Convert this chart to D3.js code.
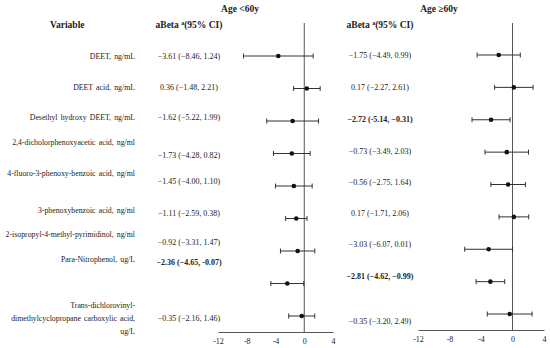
<!DOCTYPE html>
<html>
<head>
<meta charset="utf-8">
<script src="https://cdn.jsdelivr.net/npm/d3@7"></script>
<style>
  body { margin: 0; background: #fff; }
  text { font-family: "Liberation Serif", "Times New Roman", serif; fill: #222; }
</style>
</head>
<body>
<svg width="550" height="348"></svg>
<script>
const variables = [
  ["DEET, ng/mL"],
  ["DEET acid, ng/mL"],
  ["Desethyl hydroxy DEET, ng/mL"],
  ["2,4-dicholorphenoxyacetic acid, ng/ml"],
  ["4-fluoro-3-phenoxy-benzoic acid, ng/ml"],
  ["3-phenoxybenzoic acid, ng/ml"],
  ["2-isopropyl-4-methyl-pyrimidinol, ng/ml"],
  ["Para-Nitrophenol, ug/L"],
  ["Trans-dichlorovinyl-", "dimethylcyclopropane carboxylic acid,", "ug/L"]
];

// Age <60y
const young = [-3.61, 0.36, -1.62, -1.73, -1.45, -1.11, -0.92, -2.36, -0.35];
const youngLo = [-8.46, -1.48, -5.22, -4.28, -4.00, -2.59, -3.31, -4.65, -2.16];
const youngHi = [1.24, 2.21, 1.99, 0.82, 1.10, 0.38, 1.47, -0.07, 1.46];
const youngText = [
  "\u22123.61 (\u22128.46, 1.24)", "0.36 (\u22121.48, 2.21)", "\u22121.62 (\u22125.22, 1.99)",
  "\u22121.73 (\u22124.28, 0.82)", "\u22121.45 (\u22124.00, 1.10)", "\u22121.11 (\u22122.59, 0.38)",
  "\u22120.92 (\u22123.31, 1.47)", "\u22122.36 (\u22124.65, -0.07)", "\u22120.35 (\u22122.16, 1.46)"
];
const youngBold = [false, false, false, false, false, false, false, true, false];

// Age >=60y
const old = [-1.75, 0.17, -2.72, -0.73, -0.56, 0.17, -3.03, -2.81, -0.35];
const oldLo = [-4.49, -2.27, -5.14, -3.49, -2.75, -1.71, -6.07, -4.62, -3.20];
const oldHi = [0.99, 2.61, -0.31, 2.03, 1.64, 2.06, 0.01, -0.99, 2.49];
const oldText = [
  "\u22121.75 (\u22124.49, 0.99)", "0.17 (\u22122.27, 2.61)", "\u22122.72 (-5.14, \u22120.31)",
  "\u22120.73 (\u22123.49, 2.03)", "\u22120.56 (\u22122.75, 1.64)", "0.17 (\u22121.71, 2.06)",
  "\u22123.03 (\u22126.07, 0.01)", "\u22122.81 (\u22124.62, \u22120.99)", "\u22120.35 (\u22123.20, 2.49)"
];
const oldBold = [false, false, true, false, false, false, false, true, false];

const tickValues = [-12, -8, -4, 0, 4];

const svg = d3.select("svg");
const idx = d3.range(variables.length);

// small vertical nudges of the text columns, relative to the row line
const labelDy = [0, -1.5, -4, -11.5, -13, -8.5, -17, -24.5, 15];
const leftValDy = [0, -2, -4, 1, -5, -6, -9, -22, 2];
const rightValDy = [0, 0, -1, -1, -3, -4, -5, -6, 7];

svg.append("text").attr("x", 50).attr("y", 28)
  .attr("font-size", 9.5).attr("font-weight", "bold").text("Variable");

function panel(o) {
  const x = d3.scaleLinear().domain([-12, 4]).range(o.xr);
  const y = d3.scalePoint().domain(idx).range(o.yr);
  const g = svg.append("g");

  g.append("text").attr("x", o.titleX).attr("y", 12)
    .attr("text-anchor", "middle").attr("font-size", 9.5).attr("font-weight", "bold")
    .text(o.title);

  const h = g.append("text").attr("x", o.textX).attr("y", 28)
    .attr("text-anchor", "middle").attr("font-size", 9.5).attr("font-weight", "bold");
  h.append("tspan").text("aBeta ");
  h.append("tspan").attr("dy", -3).attr("font-size", 6).text("a");
  h.append("tspan").attr("dy", 3).text("(95% CI)");

  g.selectAll(".val").data(idx).enter().append("text")
    .attr("x", o.textX).attr("y", d => y(d) + 3 + o.valDy[d])
    .attr("text-anchor", "middle").attr("font-size", 8)
    .attr("font-weight", d => o.bold[d] ? "bold" : "normal")
    .text(d => o.text[d]);

  // axis
  const axis = g.append("g").attr("transform", "translate(0," + o.axisY + ")")
    .call(d3.axisBottom(x).tickValues(tickValues).tickSize(0).tickPadding(6)
      .tickFormat(d => d));
  axis.select(".domain").attr("stroke", "#555");
  axis.selectAll("text").attr("font-size", 8).attr("fill", "#222")
    .attr("font-family", "Liberation Serif, serif");

  g.append("line").attr("x1", x(0)).attr("x2", x(0))
    .attr("y1", 23).attr("y2", o.axisY).attr("stroke", "#555").attr("stroke-width", 1);

  const rows = g.selectAll(".row").data(idx).enter().append("g");
  rows.append("line").attr("x1", d => x(o.lo[d])).attr("x2", d => x(o.hi[d]))
    .attr("y1", d => y(d)).attr("y2", d => y(d)).attr("stroke", "#333").attr("stroke-width", 1);
  rows.append("line").attr("x1", d => x(o.lo[d])).attr("x2", d => x(o.lo[d]))
    .attr("y1", d => y(d) - 2.5).attr("y2", d => y(d) + 2.5).attr("stroke", "#333");
  rows.append("line").attr("x1", d => x(o.hi[d])).attr("x2", d => x(o.hi[d]))
    .attr("y1", d => y(d) - 2.5).attr("y2", d => y(d) + 2.5).attr("stroke", "#333");
  rows.append("circle").attr("cx", d => x(o.est[d])).attr("cy", d => y(d))
    .attr("r", 2.3).attr("fill", "#111");

  return y;
}

const yLeft = panel({
  xr: [218, 333], yr: [56, 316], axisY: 332, titleX: 240, textX: 189,
  title: "Age <60y", est: young, lo: youngLo, hi: youngHi,
  text: youngText, bold: youngBold, valDy: leftValDy
});
panel({
  xr: [418, 544], yr: [55, 314], axisY: 330, titleX: 439, textX: 380,
  title: "Age \u226560y", est: old, lo: oldLo, hi: oldHi,
  text: oldText, bold: oldBold, valDy: rightValDy
});

// variable labels
const lab = svg.selectAll(".lab").data(idx).enter().append("text")
  .attr("x", 135).attr("text-anchor", "end").attr("font-size", 7.8)
  .attr("word-spacing", 1.2)
  .attr("y", d => yLeft(d) + 3 + labelDy[d] - (variables[d].length - 1) * 13);
lab.selectAll("tspan").data(d => variables[d]).enter().append("tspan")
  .attr("x", 135).attr("dy", (s, i) => i === 0 ? 0 : 13).text(s => s);
</script>
</body>
</html>
